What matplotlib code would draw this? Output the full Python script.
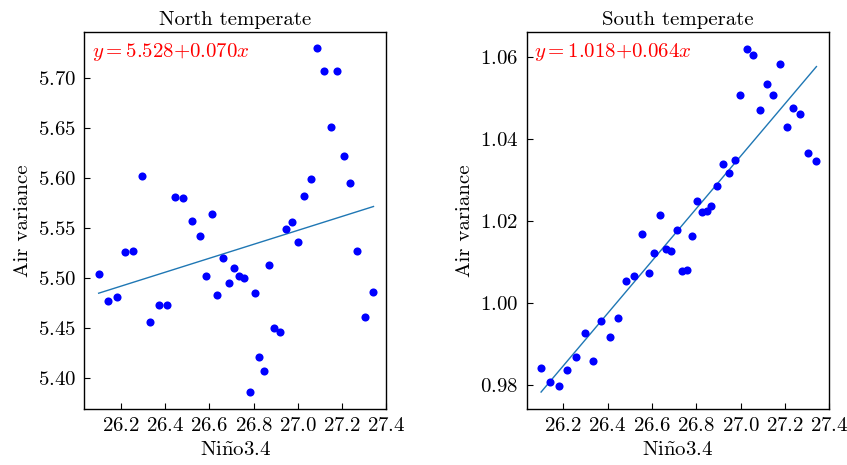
import numpy as np
import matplotlib
matplotlib.use("Agg")
import matplotlib.pyplot as plt

plt.rcParams['font.family'] = 'serif'
plt.rcParams['font.serif'] = ['cmr10']
plt.rcParams['mathtext.fontset'] = 'cm'
plt.rcParams['axes.formatter.use_mathtext'] = True
plt.rcParams['font.size'] = 15

nino34 = [26.100, 26.140, 26.181, 26.219, 26.257, 26.296, 26.334, 26.372, 26.410,
          26.447, 26.483, 26.520, 26.556, 26.586, 26.611, 26.637, 26.662, 26.688,
          26.711, 26.735, 26.759, 26.782, 26.805, 26.825, 26.847, 26.868, 26.894,
          26.920, 26.948, 26.973, 26.999, 27.029, 27.058, 27.088, 27.118, 27.148,
          27.177, 27.207, 27.237, 27.268, 27.303, 27.342]

north_var = [5.5037, 5.477, 5.481, 5.526, 5.527, 5.6017, 5.4557, 5.4724, 5.4724,
             5.5804, 5.5794, 5.5567, 5.5417, 5.5014, 5.564, 5.4824, 5.5194, 5.4947,
             5.5097, 5.502, 5.4994, 5.3857, 5.4847, 5.4204, 5.407, 5.513, 5.450,
             5.446, 5.5487, 5.556, 5.536, 5.5814, 5.5987, 5.7294, 5.7064, 5.6504,
             5.7064, 5.6217, 5.595, 5.527, 5.4604, 5.4854]

south_var = [0.98407, 0.98073, 0.97968, 0.98366, 0.98668, 0.99254, 0.98578, 0.99554,
             0.99156, 0.99627, 1.00537, 1.00644, 1.01676, 1.00717, 1.01220, 1.02156,
             1.01310, 1.01254, 1.01773, 1.00773, 1.00790, 1.01644, 1.02493, 1.02220,
             1.02230, 1.02376, 1.02854, 1.03390, 1.03171, 1.03498, 1.05083, 1.06205,
             1.06041, 1.04717, 1.05341, 1.05066, 1.05829, 1.04285, 1.04756, 1.04610,
             1.03659, 1.03473]

titles = ["North temperate", "South temperate"]
eq_labels = [r'$y=5.528{+}0.070x$', r'$y=1.018{+}0.064x$']
ylims = [(5.3687, 5.7457), (0.9741, 1.0661)]
xlim = (26.035, 27.40)

fig = plt.figure(figsize=(8.47, 4.65), dpi=100)
positions = [[0.0995, 0.1204, 0.3566, 0.8108], [0.6218, 0.1204, 0.3573, 0.8108]]

x = np.array(nino34)
for i, yv in enumerate([north_var, south_var]):
    ax = fig.add_axes(positions[i])
    ax.scatter(x, yv, s=34, color='#0000ff', zorder=3, linewidths=0)
    slope, icpt = np.polyfit(x, np.array(yv), 1)
    xl = np.array([x.min(), x.max()])
    ax.plot(xl, icpt + slope * xl, color='#1f77b4', lw=1.0, zorder=2)
    ax.set_xlim(*xlim)
    ax.set_ylim(*ylims[i])
    ax.set_xticks([26.2, 26.4, 26.6, 26.8, 27.0, 27.2, 27.4])
    ax.tick_params(direction='in', length=4, width=0.8, top=False, right=False, pad=6)
    ax.set_title(titles[i], fontsize=15, pad=5)
    ax.set_xlabel(r'Ni$\tilde{\mathrm{n}}$o3.4', fontsize=15)
    ax.set_ylabel('Air variance', fontsize=15)
    ax.text(0.025, 0.975, eq_labels[i], color='#ff0000', transform=ax.transAxes,
            va='top', ha='left', fontsize=15)
    for sp in ax.spines.values():
        sp.set_linewidth(1.0)

fig.savefig('out.png', dpi=100)
